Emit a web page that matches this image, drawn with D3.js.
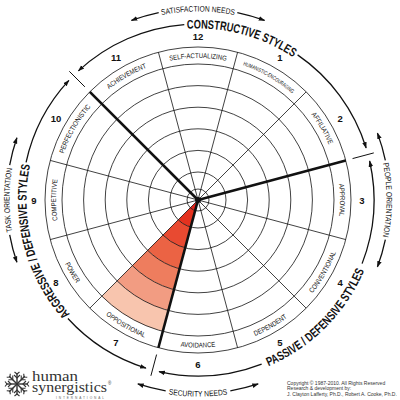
<!DOCTYPE html>
<meta charset='utf-8'>
<style>
  body { margin:0; background:#fff; }
  svg { display:block; font-family:'Liberation Sans', Arial, sans-serif; }
  .grid { fill:none; stroke:#111; stroke-width:.8px; }
  .bound { stroke:#111; stroke-width:2.6px; }
  .spoke { stroke:#111; stroke-width:.8px; }
  .styleName { font-size:7px; fill:#111; }
  .styleName.small { font-size:5.6px; }
  .num { font-size:9.5px; font-weight:bold; fill:#111; }
  .cluster { font-size:12.5px; font-weight:bold; fill:#111; }
  .outer { font-size:8px; fill:#111; }
  .arrowLine { fill:none; stroke:#111; stroke-width:1.3px; }
</style>
<body>
<script src='https://d3js.org/d3.v7.min.js'></script>
<script>

var width = 400;
var height = 400;

// styles around the circumplex, 1..12 clockwise with 12 at the top
var styleNumbers = [1,2,3,4,5,6,7,8,9,10,11,12];
var styleNames = ['HUMANISTIC-ENCOURAGING','AFFILIATIVE','APPROVAL','CONVENTIONAL','DEPENDENT',
  'AVOIDANCE','OPPOSITIONAL','POWER','COMPETITIVE','PERFECTIONISTIC','ACHIEVEMENT','SELF-ACTUALIZING'];
// ring level reached by each style (0 = none, 7 = outer ring)
var styleScores = [0,0,0,0,0,0,7,0,0,0,0,0];
var ringLevels = [1,2,3,4,5,6,7];
var bandColors = ['#e2231a','#e4321f','#e84a31','#eb6344','#ee7d5e','#f29c82','#f8c5ae'];

var clusterNames = ['CONSTRUCTIVE STYLES','PASSIVE / DEFENSIVE STYLES','AGGRESSIVE / DEFENSIVE STYLES'];
var clusterMembers = [[11,12,13,14],[3,4,5,6],[7,8,9,10]];

var needsLabels = ['SATISFACTION NEEDS','SECURITY NEEDS'];
var orientationLabels = ['TASK ORIENTATION','PEOPLE ORIENTATION'];
var copyrightLines = ['Copyright \u00a9 1987-2010. All Rights Reserved',
  'Research & development by:',
  'J. Clayton Lafferty, Ph.D., Robert A. Cooke, Ph.D.'];

var cx = 198, cy = 200;
var bandOuter = 153;

var svg = d3.select('body').append('svg')
  .attr('width', width)
  .attr('height', height);

var defs = svg.append('defs');
defs.append('marker')
  .attr('id','arrow')
  .attr('viewBox','0 0 10 10')
  .attr('refX', 9).attr('refY', 5)
  .attr('markerWidth', 5).attr('markerHeight', 5)
  .attr('orient','auto-start-reverse')
  .append('path').attr('d','M0,1.5 L10,5 L0,8.5 z').attr('fill','#111');

var g = svg.append('g').attr('transform', 'translate(' + cx + ',' + cy + ')');

var angle = d3.scaleLinear().domain([0, 12]).range([0, 2 * Math.PI]);
var radius = d3.scaleLinear().domain([0, 1, 2, 7]).range([0, 11, 28, 136]);
var deg = Math.PI / 180;

function pt(r, a) { return [r * Math.sin(a), -r * Math.cos(a)]; }

function arcD(r, a0, a1, cw) {
  var p0 = pt(r, cw ? a0 : a1), p1 = pt(r, cw ? a1 : a0);
  var large = (a1 - a0) > Math.PI ? 1 : 0;
  return 'M' + p0[0] + ',' + p0[1] + ' A' + r + ',' + r + ' 0 ' + large + ' ' + (cw ? 1 : 0) + ' ' + p1[0] + ',' + p1[1];
}

// lay text out on an arc, then split it into single glyphs so each keeps a small box
var pathId = 0;
function arcText(cls, label, r, a0, a1, squeeze, maxLen) {
  var mid = (a0 + a1) / 2;
  var cw = Math.cos(mid) >= -0.3;
  var id = 'tp' + (pathId++);
  defs.append('path').attr('id', id).attr('d', arcD(cw ? r[0] : r[1], a0, a1, cw));
  var t = g.append('text').attr('class', cls);
  var tp = t.append('textPath')
    .attr('href', '#' + id)
    .attr('startOffset', '50%')
    .attr('text-anchor', 'middle')
    .text(label);
  var natural = t.node().getComputedTextLength();
  var len = natural * squeeze;
  if (maxLen) len = Math.min(len, maxLen);
  tp.attr('textLength', len).attr('lengthAdjust', 'spacingAndGlyphs');
  var sx = len / natural;
  var node = t.node();
  for (var i = 0; i < label.length; i++) {
    if (label[i] === ' ') continue;
    var p = node.getStartPositionOfChar(i);
    var rot = node.getRotationOfChar(i);
    g.append('text').attr('class', cls)
      .attr('transform', 'translate(' + p.x + ',' + p.y + ') rotate(' + rot + ') scale(' + sx + ',1)')
      .text(label[i]);
  }
  t.remove();
  return len;
}

// score wedges
styleNumbers.forEach(function(k, i) {
  ringLevels.filter(function(l) { return l <= styleScores[i]; }).forEach(function(l) {
    g.append('path')
      .attr('fill', bandColors[l - 1])
      .attr('d', d3.arc()({
        innerRadius: radius(l - 1), outerRadius: radius(l),
        startAngle: angle(k - 0.5), endAngle: angle(k + 0.5)
      }));
  });
});

// rings
g.selectAll('circle.grid')
  .data(ringLevels.map(radius).concat([bandOuter]))
  .enter().append('circle')
  .attr('class', 'grid')
  .attr('r', function(d) { return d; });

// spokes
g.selectAll('line.spoke')
  .data(styleNumbers)
  .enter().append('line')
  .attr('class', 'spoke')
  .attr('x1', 0).attr('y1', 0)
  .attr('x2', function(k) { return pt(bandOuter, angle(k + 0.5))[0]; })
  .attr('y2', function(k) { return pt(bandOuter, angle(k + 0.5))[1]; });

// cluster boundaries
var bounds = clusterMembers.map(function(m) { return angle(m[0] - 0.5); });
g.selectAll('line.bound')
  .data(bounds)
  .enter().append('line')
  .attr('class', 'bound')
  .attr('x1', 0).attr('y1', 0)
  .attr('x2', function(a) { return pt(bandOuter, a)[0]; })
  .attr('y2', function(a) { return pt(bandOuter, a)[1]; });

g.append('circle').attr('r', 3).attr('fill', '#111');

// style names in the band
styleNumbers.forEach(function(k, i) {
  var name = styleNames[i];
  var small = name.length > 18;
  arcText(small ? 'styleName small' : 'styleName', name, [142, 147.5],
    angle(k - 0.5), angle(k + 0.5), small ? 0.72 : 0.86, 68);
});

// style numbers
g.selectAll('text.num')
  .data(styleNumbers)
  .enter().append('text')
  .attr('class', 'num')
  .attr('text-anchor', 'middle')
  .attr('dominant-baseline', 'central')
  .attr('x', function(k) { return pt(164, angle(k))[0]; })
  .attr('y', function(k) { return pt(164, angle(k))[1]; })
  .text(function(k) { return k; });

// cluster arcs with names
var clusterR = 176;
clusterMembers.forEach(function(m, i) {
  var a0 = angle(m[0] - 0.5), a1 = angle(m[m.length - 1] + 0.5);
  var mid = (a0 + a1) / 2;
  var len = arcText('cluster', clusterNames[i], [171.5, 180.5], a0, a1, 0.74);
  var half = (len / 2 + 4) / clusterR;
  g.append('path').attr('class', 'arrowLine')
    .attr('d', arcD(clusterR, a0 + 2.2 * deg, mid - half, true))
    .attr('marker-start', 'url(#arrow)');
  g.append('path').attr('class', 'arrowLine')
    .attr('d', arcD(clusterR, mid + half, a1 - 2.2 * deg, true))
    .attr('marker-end', 'url(#arrow)');
});
g.selectAll('line.tick')
  .data(bounds)
  .enter().append('line')
  .attr('stroke', '#111').attr('stroke-width', 1)
  .attr('x1', function(a) { return pt(160, a)[0]; })
  .attr('y1', function(a) { return pt(160, a)[1]; })
  .attr('x2', function(a) { return pt(182, a)[0]; })
  .attr('y2', function(a) { return pt(182, a)[1]; });

// outer axis labels with arrows pointing away
var outerItems = [
  { label: needsLabels[0], at: 0 },
  { label: orientationLabels[1], at: 90 * deg },
  { label: needsLabels[1], at: 180 * deg },
  { label: orientationLabels[0], at: 270 * deg }
];
outerItems.forEach(function(d) {
  var span = 30 * deg;
  var len = arcText('outer', d.label, [188.5, 196.5], d.at - span, d.at + span, 0.84);
  var cw = Math.cos(d.at) >= -0.3;
  var ar = cw ? 191.5 : 193.5;
  var half = (len / 2 + 3) / ar;
  var extent = 8.5 * deg;
  g.append('path').attr('class', 'arrowLine')
    .attr('d', arcD(ar, d.at + half, d.at + half + extent, true))
    .attr('marker-end', 'url(#arrow)');
  g.append('path').attr('class', 'arrowLine')
    .attr('d', arcD(ar, d.at - half - extent, d.at - half, true))
    .attr('marker-start', 'url(#arrow)');
});

// logo
var logo = svg.append('g').attr('transform', 'translate(17,384)');
d3.range(8).forEach(function(i) {
  var arm = logo.append('g').attr('transform', 'rotate(' + (i * 45) + ')');
  arm.append('line').attr('x1', 0).attr('y1', 0).attr('x2', 0).attr('y2', -11)
    .attr('stroke', '#333').attr('stroke-width', 1.4);
  arm.append('path').attr('d', 'M-3,-9 L0,-6 L3,-9 M-2.5,-12 L0,-10 L2.5,-12')
    .attr('fill', 'none').attr('stroke', '#333').attr('stroke-width', 1.1);
});
svg.append('text').attr('x', 32).attr('y', 380.5)
  .attr('font-family', "'Liberation Serif', serif").attr('font-size', 14).attr('fill', '#333')
  .attr('textLength', 46).attr('lengthAdjust', 'spacingAndGlyphs')
  .text('human');
svg.append('text').attr('x', 32).attr('y', 392)
  .attr('font-family', "'Liberation Serif', serif").attr('font-size', 14).attr('fill', '#333')
  .attr('textLength', 75).attr('lengthAdjust', 'spacingAndGlyphs')
  .text('synergistics');
svg.append('text').attr('x', 108).attr('y', 385).attr('font-size', 4.5).attr('fill', '#333').text('\u00ae');
svg.append('text').attr('x', 56).attr('y', 399).attr('font-size', 3.2).attr('fill', '#666')
  .attr('textLength', 48).text('INTERNATIONAL');

// copyright
svg.selectAll('text.copy')
  .data(copyrightLines)
  .enter().append('text')
  .attr('x', 287)
  .attr('y', function(d, i) { return 384.5 + i * 5.5; })
  .attr('font-size', 5).attr('fill', '#333')
  .text(function(d) { return d; });

</script>
</body>
